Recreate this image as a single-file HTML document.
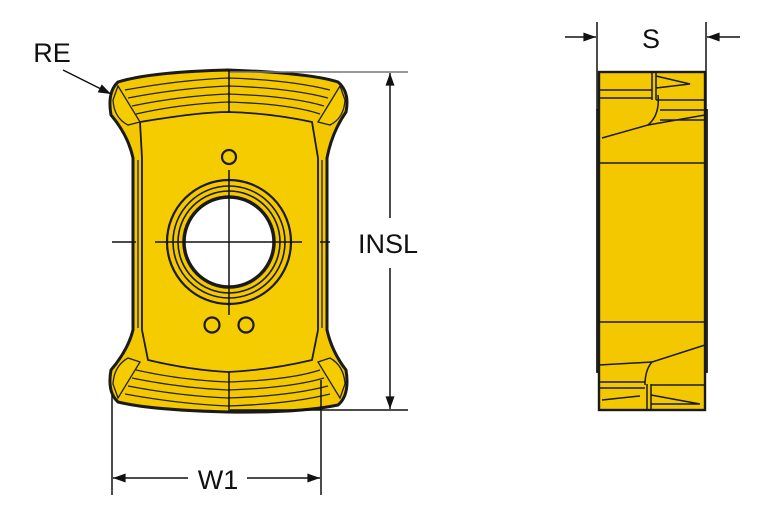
<!DOCTYPE html>
<html><head><meta charset="utf-8"><style>
html,body{margin:0;padding:0;background:#fff;}
svg{display:block;}
text{font-family:"Liberation Sans",sans-serif;fill:#111;}
</style></head><body>
<svg width="767" height="523" viewBox="0 0 767 523" xmlns="http://www.w3.org/2000/svg">
<defs>
<marker id="a" viewBox="0 0 14 10" refX="14" refY="5" markerWidth="14" markerHeight="9" orient="auto-start-reverse" markerUnits="userSpaceOnUse"><path d="M0,0 L14,5 L0,10 Z" fill="#111"/></marker>
</defs>
<path d="M118,82 Q150,72 228,70 Q310,73 338,82 Q350,92 346,112 Q332,132 327,158 L327,330 Q332,352 346,370 Q350,395 338,405 Q300,413 228,412 Q150,410 118,402 Q107,392 111,370 Q128,350 133,330 L133,158 Q128,135 111,115 Q107,92 118,82 Z" fill="#f3c800" stroke="#1a1a1a" stroke-width="3"/>
<path d="M140,122 Q200,112 228,112 Q270,113 312,122 L318,158 L318,330 L312,360 Q270,370 228,372 Q190,370 148,360 L142,330 L142,158 Z" fill="#f5cc00" stroke="#1a1a1a" stroke-width="1.8"/>
<g stroke="#222" stroke-width="1.3" fill="none">
<path d="M125,90 Q180,80 228,78 Q290,80 330,90"/><path d="M128,98 Q180,88 228,86 Q290,88 328,98"/><path d="M132,106 Q180,96 228,94 Q290,96 324,106"/><path d="M136,114 Q180,104 228,102 Q290,104 320,114"/>
<path d="M125,394 Q180,404 228,406 Q290,404 330,394"/><path d="M128,386 Q180,396 228,398 Q290,396 328,386"/><path d="M132,378 Q180,388 228,390 Q290,388 324,378"/><path d="M136,370 Q180,380 228,382 Q290,380 320,370"/>
<path d="M118,86 L140,122 L128,125 Q114,118 113,100 Z" fill="#f5cc00"/>
<path d="M340,86 L318,122 L330,125 Q344,118 345,100 Z" fill="#f5cc00"/>
<path d="M118,398 L140,362 L128,358 Q114,366 113,384 Z" fill="#f5cc00"/>
<path d="M340,398 L318,362 L330,358 Q344,366 345,384 Z" fill="#f5cc00"/>
<line x1="138" y1="160" x2="138" y2="328"/><line x1="322" y1="160" x2="322" y2="328"/>
</g>
<circle cx="229" cy="242" r="62" fill="#f3c800" stroke="#1a1a1a" stroke-width="2.2"/>
<circle cx="229" cy="242" r="56" fill="none" stroke="#1a1a1a" stroke-width="1.6"/>
<circle cx="229" cy="242" r="51" fill="none" stroke="#1a1a1a" stroke-width="1.6"/>
<circle cx="229" cy="242" r="45" fill="#fff" stroke="#1a1a1a" stroke-width="3.5"/>
<circle cx="229" cy="157" r="7" fill="none" stroke="#1a1a1a" stroke-width="2.2"/>
<circle cx="212" cy="325" r="7.5" fill="none" stroke="#1a1a1a" stroke-width="2.2"/>
<circle cx="246" cy="325" r="7.5" fill="none" stroke="#1a1a1a" stroke-width="2.2"/>
<g stroke="#111" stroke-width="1.5">
<line x1="229" y1="70" x2="229" y2="113"/><line x1="229" y1="372" x2="229" y2="412"/>
<line x1="229" y1="170" x2="229" y2="315"/>
<line x1="155" y1="242" x2="302" y2="242"/>
<line x1="112" y1="242" x2="136" y2="242"/><line x1="320" y1="242" x2="330" y2="242"/>
</g>
<g stroke="#111" stroke-width="1.5">
<line x1="230" y1="72" x2="408" y2="72" stroke="#777"/>
<line x1="230" y1="410" x2="408" y2="410"/>
<line x1="390" y1="218" x2="390" y2="73" marker-end="url(#a)"/>
<line x1="390" y1="268" x2="390" y2="409" marker-end="url(#a)"/>
<line x1="112" y1="395" x2="112" y2="495"/>
<line x1="321" y1="380" x2="321" y2="495"/>
<line x1="188" y1="478" x2="113" y2="478" marker-end="url(#a)"/>
<line x1="247" y1="478" x2="320" y2="478" marker-end="url(#a)"/>
<line x1="63" y1="70" x2="111" y2="94" marker-end="url(#a)"/>
</g>
<text x="388" y="253" font-size="27" text-anchor="middle">INSL</text>
<text x="218" y="489" font-size="27" text-anchor="middle">W1</text>
<text x="52" y="62" font-size="27" text-anchor="middle">RE</text>
<rect x="597" y="110" width="110" height="262" fill="#f3c800" stroke="#1a1a1a" stroke-width="1.8"/>
<rect x="599" y="72" width="106" height="338" fill="#f3c800" stroke="#1a1a1a" stroke-width="2.4"/>
<g stroke="#1a1a1a" stroke-width="1.5" fill="none">
<line x1="599" y1="163" x2="705" y2="163"/><line x1="599" y1="322" x2="705" y2="322"/>
<line x1="599" y1="90" x2="652" y2="90"/><line x1="599" y1="98" x2="652" y2="98"/>
<line x1="652" y1="72" x2="652" y2="100"/><line x1="656" y1="72" x2="656" y2="100"/>
<path d="M656,76 L690,84 L656,88"/>
<line x1="656" y1="100" x2="705" y2="100"/><line x1="660" y1="110" x2="705" y2="110"/>
<path d="M658,95 Q660,115 648,125 L602,138"/><line x1="660" y1="120" x2="705" y2="120"/>
<line x1="648" y1="125" x2="705" y2="115"/>
<line x1="599" y1="382" x2="645" y2="382"/><line x1="599" y1="388" x2="645" y2="388"/>
<line x1="647" y1="384" x2="647" y2="410"/><line x1="651" y1="384" x2="651" y2="410"/>
<path d="M651,395 L700,404 L651,404"/><path d="M602,400 L640,396"/>
<path d="M645,385 Q645,370 652,362 L705,345"/><line x1="599" y1="365" x2="652" y2="362"/>
<line x1="651" y1="385" x2="705" y2="385"/>
</g>
<g stroke="#111" stroke-width="1.5">
<line x1="597" y1="22" x2="597" y2="110"/><line x1="706" y1="22" x2="706" y2="110"/>
<line x1="565" y1="37" x2="596" y2="37" marker-end="url(#a)"/>
<line x1="740" y1="37" x2="707" y2="37" marker-end="url(#a)"/>
</g>
<text x="651" y="48" font-size="27" text-anchor="middle">S</text>
</svg>
</body></html>
